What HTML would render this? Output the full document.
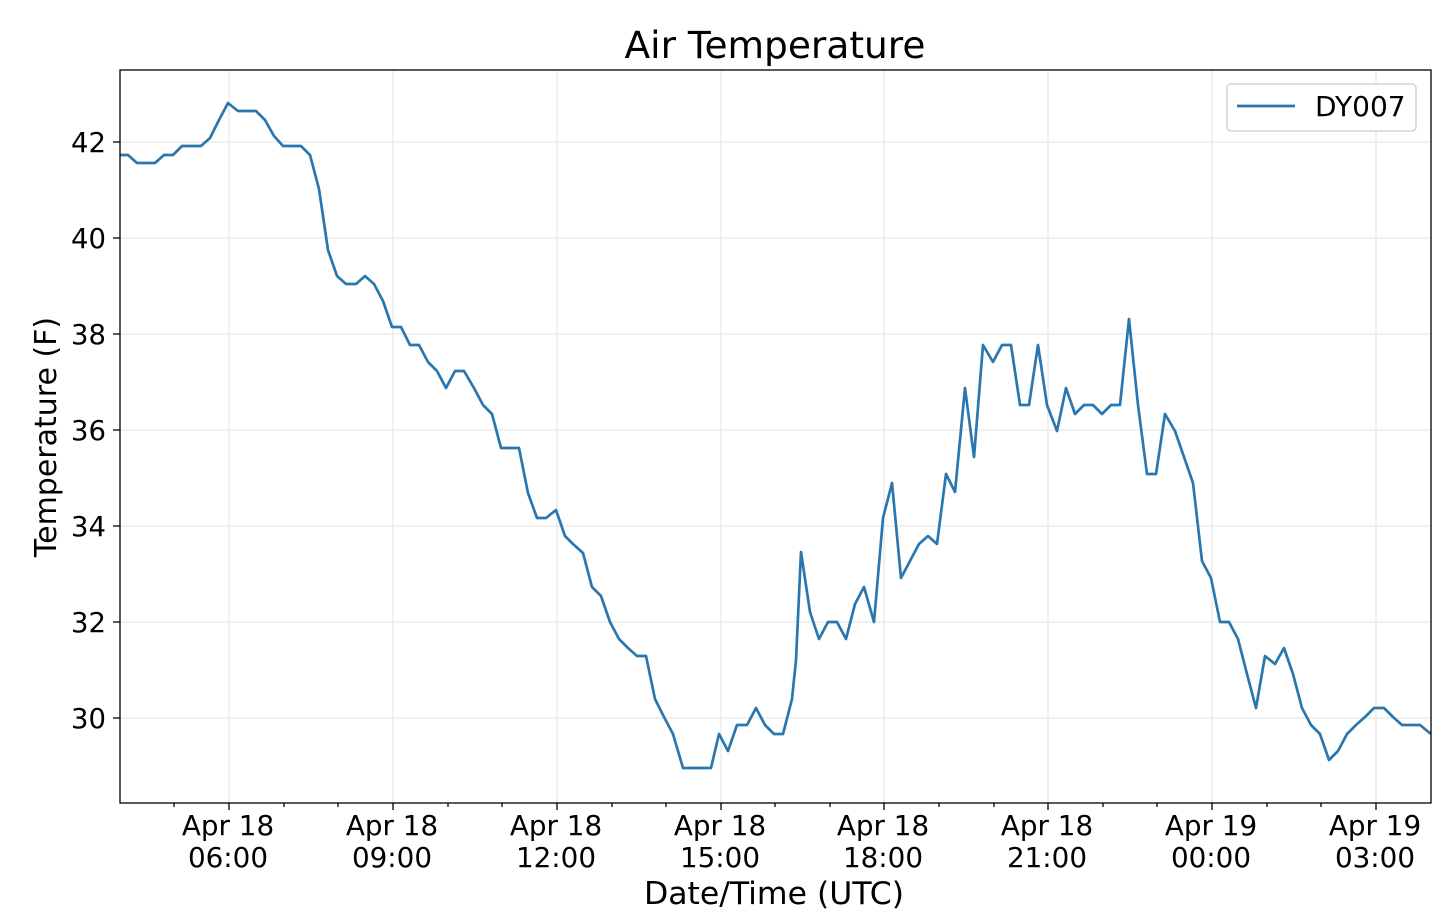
<!DOCTYPE html>
<html><head><meta charset="utf-8"><style>body{margin:0;background:#fff}svg{display:block}text{font-family:"DejaVu Sans","Liberation Sans",sans-serif;fill:#000}</style></head><body>
<svg width="1440" height="916" xmlns="http://www.w3.org/2000/svg">
<g stroke="#ebebeb" stroke-width="1.5">
<line x1="229" y1="70" x2="229" y2="803"/><line x1="393" y1="70" x2="393" y2="803"/><line x1="557" y1="70" x2="557" y2="803"/><line x1="721" y1="70" x2="721" y2="803"/><line x1="884" y1="70" x2="884" y2="803"/><line x1="1048" y1="70" x2="1048" y2="803"/><line x1="1212" y1="70" x2="1212" y2="803"/><line x1="1376" y1="70" x2="1376" y2="803"/>
<line x1="120" y1="142" x2="1431" y2="142"/><line x1="120" y1="238" x2="1431" y2="238"/><line x1="120" y1="334" x2="1431" y2="334"/><line x1="120" y1="430" x2="1431" y2="430"/><line x1="120" y1="526" x2="1431" y2="526"/><line x1="120" y1="622" x2="1431" y2="622"/><line x1="120" y1="718" x2="1431" y2="718"/>
</g>
<polyline fill="none" stroke="#2a77b0" stroke-width="2.7" stroke-linejoin="round" points="120,155 128,155 137,163 155,163 164,155 173,155 182,146 201,146 210,138 219,120 228,103 238,111 256,111 265,120 274,136 283,146 301,146 310,155 319,189 328,250 337,276 346,284 356,284 365,276 374,284 383,301 392,327 401,327 410,345 419,345 428,362 437,371 446,388 455,371 464,371 474,388 483,405 492,414 501,448 519,448 528,493 537,518 546,518 556,510 565,536 573,544 583,553 592,587 601,596 610,622 619,639 628,648 637,656 646,656 655,699 664,717 673,734 683,768 711,768 719,734 728,751 737,725 747,725 756,708 765,725 774,734 783,734 792,699 796,660 801,552 810,612 819,639 828,622 837,622 846,639 855,604 864,587 874,622 883,518 892,483 901,578 910,561 919,544 928,536 937,544 946,474 955,492 965,388 974,457 983,345 993,362 1002,345 1011,345 1020,405 1029,405 1038,345 1047,405 1057,431 1066,388 1075,414 1084,405 1093,405 1102,414 1111,405 1120,405 1129,319 1138,405 1147,474 1156,474 1165,414 1175,431 1184,457 1193,483 1202,561 1211,578 1220,622 1229,622 1238,639 1247,674 1256,708 1265,656 1275,664 1284,648 1293,674 1302,708 1311,725 1320,734 1329,760 1338,751 1347,734 1356,725 1365,717 1374,708 1384,708 1393,717 1402,725 1420,725 1431,734"/>
<rect x="120" y="70" width="1311" height="733" fill="none" stroke="#000" stroke-width="1.3"/>
<g stroke="#000" stroke-width="1.3">
<line x1="229" y1="803" x2="229" y2="810"/><line x1="393" y1="803" x2="393" y2="810"/><line x1="557" y1="803" x2="557" y2="810"/><line x1="721" y1="803" x2="721" y2="810"/><line x1="884" y1="803" x2="884" y2="810"/><line x1="1048" y1="803" x2="1048" y2="810"/><line x1="1212" y1="803" x2="1212" y2="810"/><line x1="1376" y1="803" x2="1376" y2="810"/>
<line x1="174" y1="803" x2="174" y2="807"/><line x1="284" y1="803" x2="284" y2="807"/><line x1="338" y1="803" x2="338" y2="807"/><line x1="448" y1="803" x2="448" y2="807"/><line x1="502" y1="803" x2="502" y2="807"/><line x1="612" y1="803" x2="612" y2="807"/><line x1="666" y1="803" x2="666" y2="807"/><line x1="775" y1="803" x2="775" y2="807"/><line x1="830" y1="803" x2="830" y2="807"/><line x1="939" y1="803" x2="939" y2="807"/><line x1="994" y1="803" x2="994" y2="807"/><line x1="1103" y1="803" x2="1103" y2="807"/><line x1="1157" y1="803" x2="1157" y2="807"/><line x1="1267" y1="803" x2="1267" y2="807"/><line x1="1321" y1="803" x2="1321" y2="807"/>
<line x1="113" y1="142" x2="120" y2="142"/><line x1="113" y1="238" x2="120" y2="238"/><line x1="113" y1="334" x2="120" y2="334"/><line x1="113" y1="430" x2="120" y2="430"/><line x1="113" y1="526" x2="120" y2="526"/><line x1="113" y1="622" x2="120" y2="622"/><line x1="113" y1="718" x2="120" y2="718"/>
</g>
<g font-size="27.5" text-anchor="end">
<text x="106" y="152">42</text><text x="106" y="248">40</text><text x="106" y="344">38</text><text x="106" y="440">36</text><text x="106" y="536">34</text><text x="106" y="632">32</text><text x="106" y="728">30</text>
</g>
<g font-size="27.8" text-anchor="middle">
<text x="228" y="835">Apr 18</text><text x="228" y="867">06:00</text>
<text x="392" y="835">Apr 18</text><text x="392" y="867">09:00</text>
<text x="556" y="835">Apr 18</text><text x="556" y="867">12:00</text>
<text x="720" y="835">Apr 18</text><text x="720" y="867">15:00</text>
<text x="883" y="835">Apr 18</text><text x="883" y="867">18:00</text>
<text x="1047" y="835">Apr 18</text><text x="1047" y="867">21:00</text>
<text x="1211" y="835">Apr 19</text><text x="1211" y="867">00:00</text>
<text x="1375" y="835">Apr 19</text><text x="1375" y="867">03:00</text>
<text x="774" y="904" font-size="31.5">Date/Time (UTC)</text>
<text x="775" y="58" font-size="37.5">Air Temperature</text>
<text transform="translate(56,437) rotate(-90)" font-size="30">Temperature (F)</text>
</g>
<rect x="1227" y="84" width="189" height="47" rx="4" fill="#fff" stroke="#ccc" stroke-width="1.3"/>
<line x1="1237" y1="106" x2="1295" y2="106" stroke="#2a77b0" stroke-width="2.7"/>
<text x="1315" y="116" font-size="28">DY007</text>
</svg>
</body></html>
